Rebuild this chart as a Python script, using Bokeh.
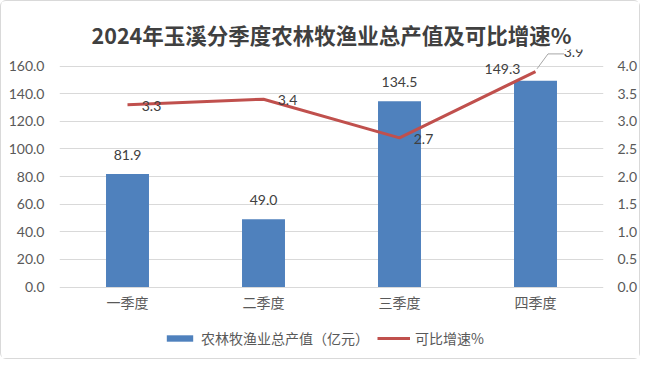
from bokeh.plotting import figure
from bokeh.models import (Range1d, LinearAxis, FixedTicker, PrintfTickFormatter,
                          ColumnDataSource, LabelSet, Legend, LegendItem)
from bokeh.core.properties import value
from bokeh.embed import file_html
from bokeh.resources import INLINE

quarters = ["一季度", "二季度", "三季度", "四季度"]
output_value = [81.9, 49.0, 134.5, 149.3]   # 农林牧渔业总产值（亿元）
growth = [3.3, 3.4, 2.7, 3.9]               # 可比增速%
left_ticks = [0, 20, 40, 60, 80, 100, 120, 140, 160]
right_ticks = [0, 0.5, 1.0, 1.5, 2.0, 2.5, 3.0, 3.5, 4.0]

title_text = "2024年玉溪分季度农林牧渔业总产值及可比增速%"
bar_name = "农林牧渔业总产值（亿元）"
line_name = "可比增速%"

BLUE = "#4f81bd"
RED = "#c0504d"
GRID = "#d9d9d9"
TICK = "#595959"
NUMF = "Lato"
CJK = "Noto Sans CJK SC"

idx = list(range(len(quarters)))

# layout: the frame reaches down to the legend row so that the legend can sit inside it
Y_TOP, Y_BOTTOM = 172, -46.7
p = figure(width=640, height=359,
           min_border_left=58, min_border_right=38, min_border_top=48, min_border_bottom=9,
           x_range=Range1d(-0.5, len(quarters) - 0.5), y_range=Range1d(Y_BOTTOM, Y_TOP),
           output_backend="svg", toolbar_location=None, title=title_text)
p.styles = {"border": "1px solid #d9d9d9", "border-radius": "6px", "box-sizing": "border-box"}
p.outline_line_color = None
p.background_fill_color = "white"
p.border_fill_color = "white"

p.title.align = "center"
p.title.text_font = CJK
p.title.text_font_size = "21.5px"
p.title.text_font_style = "bold"
p.title.text_color = "#404040"
p.title.offset = 14
p.title.standoff = 0

p.extra_y_ranges = {"right": Range1d(Y_BOTTOM / 40, Y_TOP / 40)}

bars = p.vbar(x=idx, top=output_value, width=0.316, fill_color=BLUE, line_color=None)
ln = p.line(x=idx, y=growth, y_range_name="right", line_color=RED, line_width=3)

# axes
p.xaxis.visible = False

p.yaxis.ticker = FixedTicker(ticks=left_ticks)
p.yaxis.formatter = PrintfTickFormatter(format="%.1f")
p.yaxis.axis_line_color = None
p.yaxis.major_tick_line_color = None
p.yaxis.minor_tick_line_color = None
p.yaxis.major_label_text_font = NUMF
p.yaxis.major_label_text_font_size = "14px"
p.yaxis.major_label_text_color = TICK
p.yaxis.major_label_standoff = 9

ra = LinearAxis(y_range_name="right", ticker=FixedTicker(ticks=right_ticks),
                formatter=PrintfTickFormatter(format="%.1f"))
ra.axis_line_color = None
ra.major_tick_line_color = None
ra.minor_tick_line_color = None
ra.major_label_text_font = NUMF
ra.major_label_text_font_size = "14px"
ra.major_label_text_color = TICK
ra.major_label_standoff = 8
p.add_layout(ra, "right")

p.xgrid.grid_line_color = None
p.ygrid.ticker = FixedTicker(ticks=left_ticks)
p.ygrid.grid_line_color = GRID
p.ygrid.grid_line_width = 1

# category labels under the zero line
cat_src = ColumnDataSource(dict(x=idx, y=[0] * len(idx), t=quarters))
p.add_layout(LabelSet(x="x", y="y", text="t", source=cat_src, y_offset=-15,
                      text_font=value(CJK), text_font_size="14px", text_color=TICK,
                      text_align="center", text_baseline="middle"))

lab_style = dict(text_font=value(NUMF), text_font_size="14px", text_color="#404040",
                 text_align="center", text_baseline="middle")

# bar value labels (last one shifted left as in the original)
bar_main = ColumnDataSource(dict(x=idx[:-1], v=output_value[:-1],
                                 t=[f"{a:.1f}" for a in output_value[:-1]]))
bar_last = ColumnDataSource(dict(x=idx[-1:], v=output_value[-1:],
                                 t=[f"{a:.1f}" for a in output_value[-1:]]))
p.add_layout(LabelSet(x="x", y="v", text="t", source=bar_main, y_offset=19, **lab_style))
p.add_layout(LabelSet(x="x", y="v", text="t", source=bar_last, x_offset=-33, y_offset=12, **lab_style))

# growth labels
g_main = ColumnDataSource(dict(x=idx[:-1], g=growth[:-1], t=[f"{a:.1f}" for a in growth[:-1]]))
g_last = ColumnDataSource(dict(x=idx[-1:], g=growth[-1:], t=[f"{a:.1f}" for a in growth[-1:]]))
p.add_layout(LabelSet(x="x", y="g", text="t", source=g_main, y_range_name="right",
                      x_offset=24, y_offset=-1, **lab_style))
p.add_layout(LabelSet(x="x", y="g", text="t", source=g_last, y_range_name="right",
                      x_offset=38, y_offset=20, **lab_style))

# leader line for the last growth label
lx = idx[-1]
ly = growth[-1]
p.line(x=[lx + 0.011, lx + 0.092, lx + 0.21], y=[ly + 0.05, ly + 0.32, ly + 0.32],
       y_range_name="right", line_color="#a6a6a6", line_width=1)

legend = Legend(items=[LegendItem(label=bar_name, renderers=[bars]),
                       LegendItem(label=line_name, renderers=[ln])],
                orientation="horizontal", location=(104, 3),
                label_text_font=CJK, label_text_font_size="14px", label_text_color=TICK,
                glyph_width=33, glyph_height=8, label_standoff=5, spacing=8,
                label_height=17, border_line_color=None, background_fill_alpha=0,
                padding=0, margin=0)
p.add_layout(legend, "center")

open("out.html", "w").write(file_html(p, INLINE))
